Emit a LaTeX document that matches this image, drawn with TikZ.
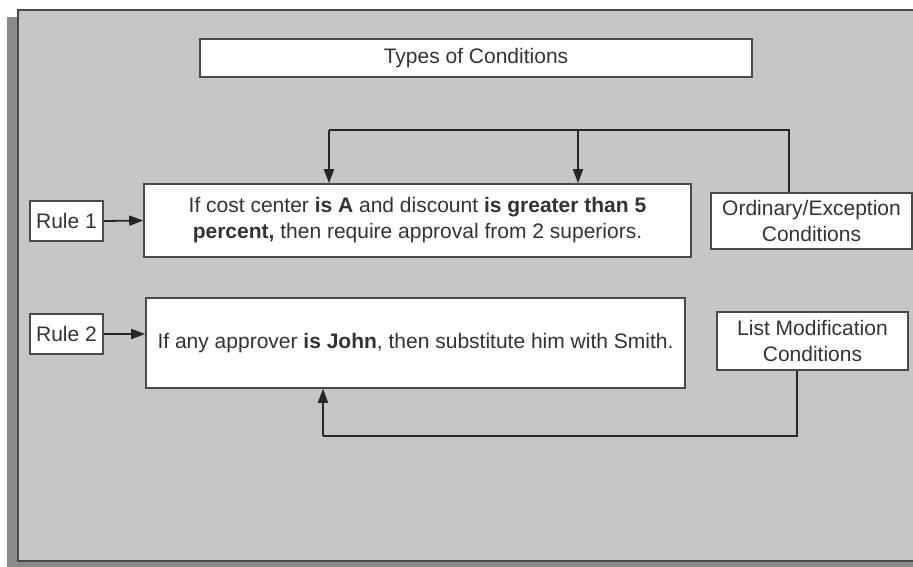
\documentclass[tikz,border=0pt]{standalone}
\usepackage{fontspec}
\setmainfont{Liberation Sans}
\usetikzlibrary{arrows.meta}
\definecolor{panelgray}{HTML}{C6C6C6}
\definecolor{shadowgray}{HTML}{8A8A8A}
\definecolor{edgegray}{HTML}{4A4A4A}
\definecolor{txtgray}{HTML}{333333}
\tikzset{
  box/.style={draw=edgegray, line width=1.6pt, fill=white, inner sep=0pt, align=center,
    text=txtgray, font=\fontsize{21}{26}\selectfont},
  conn/.style={draw=black!85, line width=1.8pt},
  arr/.style={conn, -{Triangle[length=14pt,width=10pt]}}
}
\begin{document}
\begin{tikzpicture}[x=1pt,y=-1pt]
\useasboundingbox (0,0) rectangle (913,567);
\clip (0,0) rectangle (913,567);
% shadow and panel
\fill[shadowgray] (7,17) rectangle (930,575);
\filldraw[fill=panelgray, draw=edgegray, line width=2.2pt] (18,10) rectangle (935,561);
% nodes
\node[box, minimum width=552pt, minimum height=38pt] (title) at (476,58) {Types of Conditions};
\node[box, minimum width=73pt, minimum height=40pt] (rule1) at (66.5,221) {Rule 1};
\node[box, minimum width=547pt, minimum height=73pt] (box1) at (417.5,220.5)
  {If cost center \textbf{is A} and discount \textbf{is greater than 5}\\\textbf{percent,} then require approval from 2 superiors.};
\node[box, minimum width=201pt, minimum height=56pt] (ord) at (811.5,221) {Ordinary/Exception\\Conditions};
\node[box, minimum width=73pt, minimum height=40pt] (rule2) at (66.5,334) {Rule 2};
\node[box, minimum width=539pt, minimum height=90pt] (box2) at (415.5,343)
  {If any approver \textbf{is John}, then substitute him with Smith.};
\node[box, minimum width=191pt, minimum height=58pt] (listmod) at (812.5,341) {List Modification\\Conditions};
% helper coordinates
\coordinate (tr) at (789,130);
\coordinate (tm) at (578,130);
\coordinate (tl) at (329,130);
\coordinate (br) at (797,436);
\coordinate (bl) at (323,436);
% connectors
\draw[arr] (rule1.east) -- (box1.west);
\draw[arr] (rule2.east) -- (rule2.east -| box2.west);
\draw[conn] (ord.north -| tr) -- (tr) -- (tl);
\draw[arr] (tl) -- (tl |- box1.north);
\draw[arr] (tm) -- (tm |- box1.north);
\draw[conn] (listmod.south -| br) -- (br) -- (bl);
\draw[arr] (bl) -- (bl |- box2.south);
\end{tikzpicture}
\end{document}
